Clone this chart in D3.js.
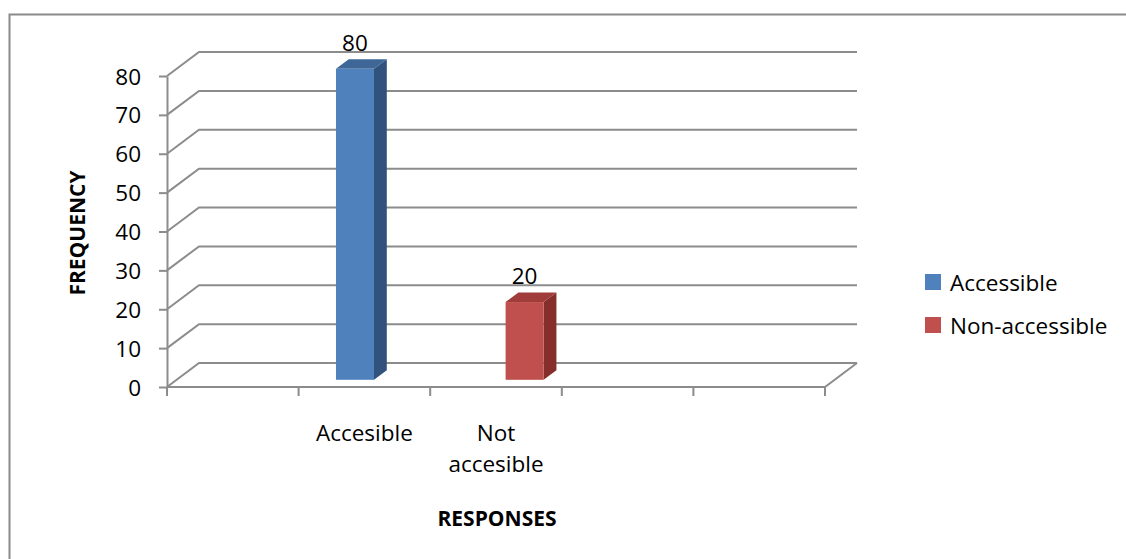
<!DOCTYPE html>
<html>
<head>
<meta charset="utf-8">
<script src="https://cdn.jsdelivr.net/npm/d3@7"></script>
<style>
  html, body { margin: 0; padding: 0; background: #fff; }
  svg { display: block; font-family: "Open Sans", sans-serif; }
</style>
</head>
<body>
<svg id="chart" width="1126" height="559"></svg>
<script>
// ─── Datos ────────────────────────────────────────────────────────────────────
const categories   = ["", "Accesible", "Not accesible", "", ""];
const seriesNames  = ["Accessible", "Non-accessible"];
const accessible    = [null, 80, null, null, null];
const nonAccessible = [null, null, 20, null, null];
const yTicks = [0, 10, 20, 30, 40, 50, 60, 70, 80];

const seriesValues = [accessible, nonAccessible];
const FRONT = ["#4f81bd", "#c0504d"];
const SIDE  = ["#30527c", "#852e2c"];
const TOP   = ["#3e6797", "#a03d3a"];

// ─── Geometría ────────────────────────────────────────────────────────────────
const svg = d3.select("#chart");
const X0 = 167, X1 = 825;          // frente del suelo
const Y0 = 387, Y80 = 76;          // eje vertical frontal
const DX = 32, DY = -24;           // vector de profundidad (pared del fondo)
const F_FRONT = 0.3, F_DEPTH = 0.4;
const FS = 22.5;                   // tamaño de texto general

const x = d3.scaleBand().domain(d3.range(categories.length)).range([X0, X1]);
const xs = d3.scaleBand().domain(d3.range(seriesNames.length))
  .range([0, x.bandwidth()]).paddingOuter(0.73);
const y = d3.scaleLinear().domain([0, 80]).range([Y0, Y80]);

// Borde del gráfico (sólo arriba/izquierda quedan visibles)
svg.append("rect")
  .attr("x", 9.5).attr("y", 14.5).attr("width", 1200).attr("height", 700)
  .attr("fill", "none").attr("stroke", "#8a8a8a").attr("stroke-width", 2);

// ─── Rejilla 3D ───────────────────────────────────────────────────────────────
const grid = svg.append("g").attr("stroke", "#8c8c8c").attr("stroke-width", 2).attr("fill", "none");
yTicks.forEach(v => {
  grid.append("path")
    .attr("d", `M${X0},${y(v)}L${X0 + DX},${y(v) + DY}L${X1 + DX},${y(v) + DY}`);
});
// suelo: borde frontal y lateral derecho
grid.append("path").attr("d", `M${X0},${Y0}L${X1},${Y0}L${X1 + DX},${Y0 + DY}`);

// ─── Ejes ─────────────────────────────────────────────────────────────────────
const yAxis = svg.append("g")
  .attr("transform", `translate(${X0},0)`)
  .call(d3.axisLeft(y).tickValues(yTicks).tickSize(8).tickSizeOuter(0).tickPadding(18));
yAxis.select(".domain").attr("stroke", "#8c8c8c").attr("stroke-width", 2);
yAxis.selectAll(".tick line").attr("stroke", "#8c8c8c").attr("stroke-width", 2);
yAxis.selectAll(".tick text").attr("font-size", FS).attr("fill", "#000")
  .attr("font-family", "Open Sans, sans-serif").attr("dy", "0.36em");

// marcas de categoría en los límites de cada banda
const bounds = x.domain().map(i => x(i)).concat([X1]);
svg.append("g").selectAll("line").data(bounds).join("line")
  .attr("x1", d => d).attr("x2", d => d)
  .attr("y1", Y0).attr("y2", Y0 + 9)
  .attr("stroke", "#8c8c8c").attr("stroke-width", 2);

// etiquetas de categoría con ajuste de línea
const catG = svg.append("g").attr("font-size", FS).attr("text-anchor", "middle");
categories.forEach((c, i) => {
  if (!c) return;
  const cx = x(i) + x.bandwidth() / 2;
  const t = catG.append("text").attr("x", cx).attr("y", 441);
  let line = [];
  let tspan = t.append("tspan").attr("x", cx).attr("dy", 0);
  c.split(" ").forEach(w => {
    line.push(w);
    tspan.text(line.join(" "));
    if (tspan.node().getComputedTextLength() > x.bandwidth() * 0.9 && line.length > 1) {
      line.pop();
      tspan.text(line.join(" "));
      line = [w];
      tspan = t.append("tspan").attr("x", cx).attr("dy", 31).text(w);
    }
  });
});

// ─── Barras 3D ────────────────────────────────────────────────────────────────
const bars = svg.append("g");
seriesValues.forEach((vals, s) => {
  vals.forEach((v, i) => {
    if (v == null) return;
    const w = xs.bandwidth();
    const bx = x(i) + xs(s) + DX * F_FRONT;
    const by0 = Y0 + DY * F_FRONT;
    const by1 = y(v) + DY * F_FRONT;
    const dx = DX * F_DEPTH, dy = DY * F_DEPTH;
    const g = bars.append("g");
    g.append("path").attr("fill", SIDE[s])
      .attr("d", `M${bx + w},${by0}L${bx + w + dx},${by0 + dy}L${bx + w + dx},${by1 + dy}L${bx + w},${by1}Z`);
    g.append("path").attr("fill", TOP[s])
      .attr("d", `M${bx},${by1}L${bx + dx},${by1 + dy}L${bx + w + dx},${by1 + dy}L${bx + w},${by1}Z`);
    g.append("rect").attr("fill", FRONT[s])
      .attr("x", bx).attr("y", by1).attr("width", w).attr("height", by0 - by1);
    svg.append("text")
      .attr("x", bx + w / 2).attr("y", by1 + dy - 8)
      .attr("text-anchor", "middle").attr("font-size", FS)
      .text(v);
  });
});

// ─── Títulos de ejes ──────────────────────────────────────────────────────────
svg.append("text")
  .attr("transform", "translate(85,233) rotate(-90)")
  .attr("text-anchor", "middle").attr("font-size", 21).attr("font-weight", "bold")
  .text("FREQUENCY");
svg.append("text")
  .attr("x", 497).attr("y", 526)
  .attr("text-anchor", "middle").attr("font-size", 21).attr("font-weight", "bold")
  .text("RESPONSES");

// ─── Leyenda ──────────────────────────────────────────────────────────────────
const legend = svg.append("g").attr("transform", "translate(925,274)");
seriesNames.forEach((name, s) => {
  const row = legend.append("g").attr("transform", `translate(0,${s * 43})`);
  row.append("rect").attr("width", 16).attr("height", 16).attr("fill", FRONT[s]);
  row.append("text").attr("x", 25).attr("y", 17).attr("font-size", FS).text(name);
});
</script>
</body>
</html>
